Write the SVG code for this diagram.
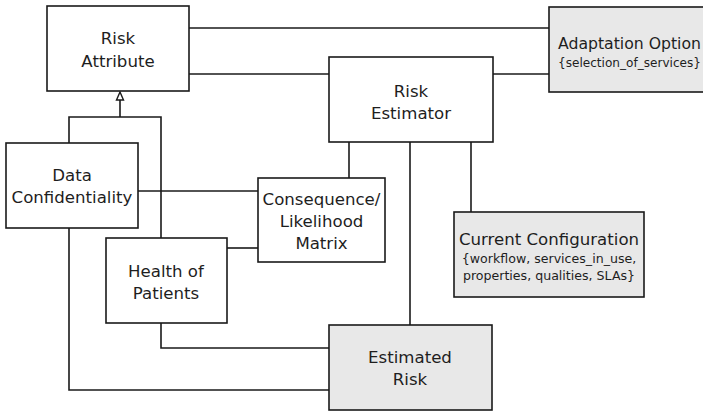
<svg xmlns="http://www.w3.org/2000/svg" width="703" height="412" viewBox="0 0 703 412">
  <style>
    .box { fill: #ffffff; stroke: #1a1a1a; stroke-width: 1.6; }
    .shaded { fill: #e8e8e8; stroke: #1a1a1a; stroke-width: 1.6; }
    .wire { fill: none; stroke: #1a1a1a; stroke-width: 1.6; }
    text { font-family: "DejaVu Sans", Verdana, sans-serif; fill: #1e1e1e; }
    .lbl { font-size: 16.6px; text-anchor: middle; }
    .sub { font-size: 12.6px; }
  </style>
  <rect width="703" height="412" fill="#ffffff"/>

  <!-- connectors -->
  <g id="connectors">
    <!-- Risk Attribute to Adaptation Option / Risk Estimator -->
    <path class="wire" d="M189,28 H549"/>
    <path class="wire" d="M189,74 H329"/>
    <!-- Risk Estimator to Adaptation Option -->
    <path class="wire" d="M493,74 H549"/>
    <!-- Risk Estimator down to matrix, estimated risk, configuration -->
    <path class="wire" d="M349,142 V178"/>
    <path class="wire" d="M410,142 V325"/>
    <path class="wire" d="M471,142 V212"/>
    <!-- generalisation of the two attributes -->
    <path class="wire" d="M120,100 V117"/>
    <path class="wire" d="M69,143 V117 H161 V238"/>
    <polygon points="120,92 116.5,100 123.5,100" fill="#ffffff" stroke="#1a1a1a" stroke-width="1.4"/>
    <!-- attributes to matrix -->
    <path class="wire" d="M138,191 H258"/>
    <path class="wire" d="M227,248 H258"/>
    <!-- attributes to estimated risk -->
    <path class="wire" d="M161,323 V348 H329"/>
    <path class="wire" d="M69,228 V390 H329"/>
  </g>

  <g id="risk-attribute">
    <rect class="box" x="47" y="6" width="142" height="85"/>
    <text class="lbl" x="118" y="44">Risk</text>
    <text class="lbl" x="118" y="67">Attribute</text>
  </g>

  <g id="risk-estimator">
    <rect class="box" x="329" y="57" width="164" height="85"/>
    <text class="lbl" x="411" y="97">Risk</text>
    <text class="lbl" x="411" y="119">Estimator</text>
  </g>

  <g id="adaptation-option">
    <rect class="shaded" x="549" y="7" width="170" height="85"/>
    <text x="558" y="49" font-size="16" textLength="143" lengthAdjust="spacingAndGlyphs">Adaptation Option</text>
    <text class="sub" x="558" y="67" font-size="12.2" textLength="143" lengthAdjust="spacingAndGlyphs" style="font-size:12.2px">{selection_of_services}</text>
  </g>

  <g id="data-confidentiality">
    <rect class="box" x="6" y="143" width="132" height="85"/>
    <text class="lbl" x="72" y="181">Data</text>
    <text class="lbl" x="72" y="203">Confidentiality</text>
  </g>

  <g id="consequence-matrix">
    <rect class="box" x="258" y="178" width="127" height="84"/>
    <text class="lbl" x="321.5" y="205">Consequence/</text>
    <text class="lbl" x="321.5" y="227">Likelihood</text>
    <text class="lbl" x="321.5" y="249">Matrix</text>
  </g>

  <g id="health-of-patients">
    <rect class="box" x="106" y="238" width="121" height="85"/>
    <text class="lbl" x="166" y="277">Health of</text>
    <text class="lbl" x="166" y="299">Patients</text>
  </g>

  <g id="current-configuration">
    <rect class="shaded" x="454" y="212" width="190" height="85"/>
    <text class="lbl" x="549" y="245">Current Configuration</text>
    <text class="sub" x="549" y="263" text-anchor="middle">{workflow, services_in_use,</text>
    <text class="sub" x="549" y="280" text-anchor="middle">properties, qualities, SLAs}</text>
  </g>

  <g id="estimated-risk">
    <rect class="shaded" x="329" y="325" width="163" height="85"/>
    <text class="lbl" x="410" y="363">Estimated</text>
    <text class="lbl" x="410" y="385">Risk</text>
  </g>
</svg>
